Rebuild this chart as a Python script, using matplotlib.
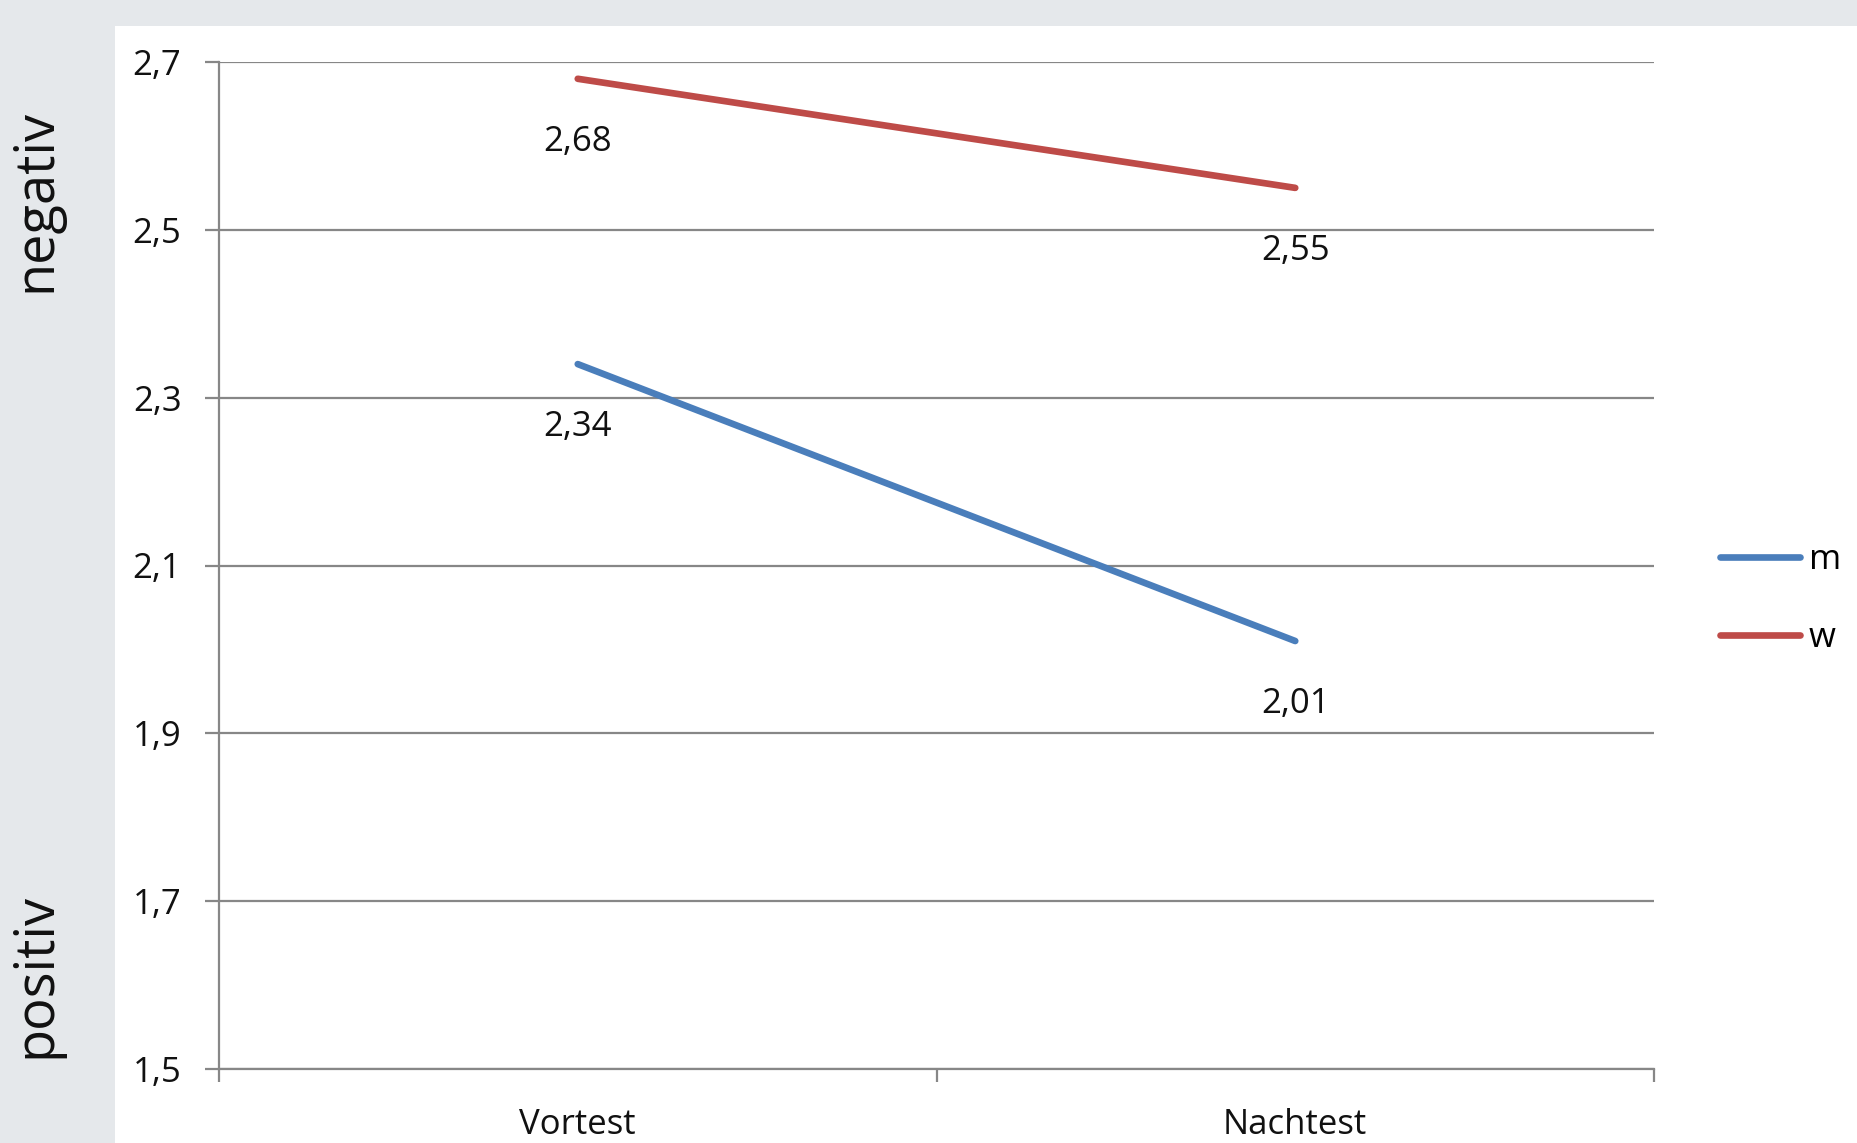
import matplotlib
matplotlib.use("Agg")
import matplotlib.pyplot as plt
from matplotlib.patches import Rectangle
from matplotlib.ticker import FixedLocator, FuncFormatter

# Data
categories = ["Vortest", "Nachtest"]
series_names = ["m", "w"]
values_m = [2.34, 2.01]
values_w = [2.68, 2.55]
y_ticks = [1.5, 1.7, 1.9, 2.1, 2.3, 2.5, 2.7]

colors = {"m": "#4a7ebb", "w": "#be4b48"}
grid_color = "#878787"
font = ["Open Sans", "DejaVu Sans"]
plt.rcParams["font.family"] = font

W, H = 1857, 1143
fig = plt.figure(figsize=(W / 100, H / 100), dpi=100, facecolor="#e5e8eb")

# White chart panel
fig.patches.append(Rectangle((115 / W, 0), 1 - 115 / W, 1 - 26 / H,
                             transform=fig.transFigure, facecolor="white",
                             edgecolor="none", zorder=-5))

ax = fig.add_axes([219 / W, 1 - 1069 / H, (1654 - 219) / W, (1069 - 62) / H])
ax.set_facecolor("none")
ax.set_zorder(1)

x = list(range(len(categories)))
for name, vals in zip(series_names, [values_m, values_w]):
    ax.plot(x, vals, color=colors[name], lw=4.8, solid_capstyle="round",
            label=name, zorder=3)
    for xi, v in zip(x, vals):
        ax.annotate(f"{v:.2f}".replace(".", ","), (xi, v), xytext=(0, -52),
                    textcoords="offset points", ha="center", va="baseline",
                    fontsize=25, color="#111111", zorder=4)

ax.set_xlim(-0.5, len(categories) - 0.5)
ax.set_ylim(y_ticks[0], y_ticks[-1])

# Y axis
ax.yaxis.set_major_locator(FixedLocator(y_ticks))
ax.yaxis.set_major_formatter(FuncFormatter(lambda v, p: f"{v:.1f}".replace(".", ",")))
ax.tick_params(axis="y", direction="out", length=10, width=1.6, color=grid_color,
               labelsize=25, pad=17, labelcolor="#111111")
ax.grid(axis="y", color=grid_color, lw=1.6, zorder=1)

# X axis: category labels centred, tick marks at boundaries
ax.set_xticks(x)
ax.set_xticklabels(categories)
ax.set_xticks([i - 0.5 for i in range(len(categories) + 1)], minor=True)
ax.tick_params(axis="x", which="major", length=0, labelsize=25, pad=28,
               labelcolor="#111111")
ax.tick_params(axis="x", which="minor", direction="out", length=9, width=1.6,
               color=grid_color)

for side in ["top", "right"]:
    ax.spines[side].set_visible(False)
for side in ["left", "bottom"]:
    ax.spines[side].set_color(grid_color)
    ax.spines[side].set_linewidth(1.6)

# Legend
fig.legend(loc="center left", bbox_to_anchor=(1720 / W, 1 - 599 / H),
           frameon=False, fontsize=25, handlelength=2.3, handletextpad=0.25,
           labelspacing=1.25, borderpad=0, borderaxespad=0)

# Side annotations
fig.text(36 / W, 1 - 201 / H, "negativ", rotation=90, ha="center", va="center",
         fontsize=39, color="#111111")
fig.text(36 / W, 1 - 975 / H, "positiv", rotation=90, ha="center", va="center",
         fontsize=39, color="#111111")

fig.savefig("out.png", dpi=100, facecolor=fig.get_facecolor())
